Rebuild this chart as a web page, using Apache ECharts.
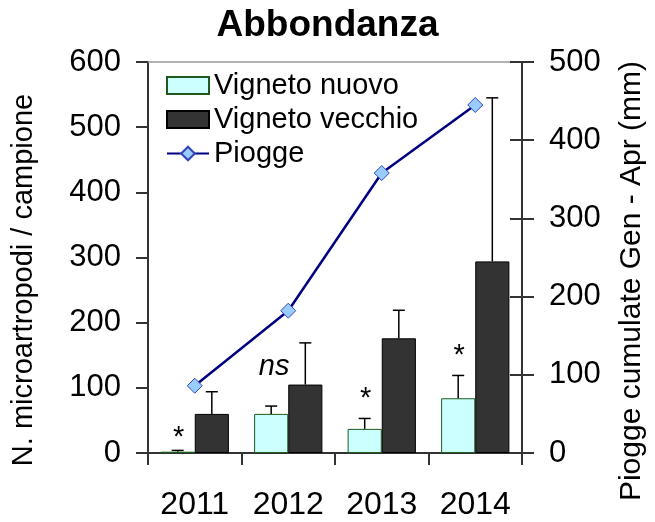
<!DOCTYPE html>
<html><head><meta charset="utf-8">
<script src="https://cdn.jsdelivr.net/npm/echarts@6/dist/echarts.min.js"></script>
<style>html,body{margin:0;padding:0;background:#fff}#c{width:655px;height:522px}</style>
</head><body><div id="c"></div>
<script>
const years = ['2011', '2012', '2013', '2014'];
const nuovo = [2, 60, 37, 84];
const nuovoErr = [4, 72, 53, 119];
const vecchio = [60, 105, 176, 294];
const vecchioErr = [94, 169, 219, 545];
const piogge = [86, 182, 358, 445];
const annotText = ['*', 'ns', '*', '*'];
const annotY = [23, 132, 83, 149];
const leftTicks = [0, 100, 200, 300, 400, 500, 600];
const rightTicks = [0, 100, 200, 300, 400, 500];

const FONT = 'Liberation Sans, Arial, sans-serif';
const GAP = 0.27;
const chart = echarts.init(document.getElementById('c'));

function errRender(side) {
  return function (params, api) {
    const cat = api.value(0);
    const base = api.coord([cat, api.value(1)]);
    const top = api.coord([cat, api.value(2)]);
    const band = api.size([1, 0])[0];
    const bw = band * (1 - GAP) / 2;
    const x = base[0] + side * bw / 2;
    const cap = 6;
    const st = { stroke: '#000', lineWidth: 1.5 };
    return { type: 'group', children: [
      { type: 'line', shape: { x1: x, y1: base[1], x2: x, y2: top[1] }, style: st },
      { type: 'line', shape: { x1: x - cap, y1: top[1], x2: x + cap, y2: top[1] }, style: st }
    ]};
  };
}

chart.setOption({
  animation: false,
  title: { text: 'Abbondanza', left: 'center', top: 2,
    textStyle: { fontFamily: FONT, fontWeight: 'bold', fontSize: 37, color: '#000' } },
  grid: { left: 148, right: 133, top: 62, bottom: 69 },
  legend: {
    orient: 'vertical', left: 161, top: 66, itemWidth: 42, itemHeight: 17, itemGap: 5,
    textStyle: { fontFamily: FONT, fontSize: 29, color: '#000' },
    data: [{ name: 'Vigneto nuovo', icon: 'rect' }, { name: 'Vigneto vecchio', icon: 'rect' }, 'Piogge']
  },
  xAxis: [{
    type: 'category', data: years, position: 'bottom',
    axisLine: { lineStyle: { color: '#333', width: 2 } },
    axisTick: { show: true, length: 12, lineStyle: { color: '#333', width: 2 } },
    axisLabel: { fontFamily: FONT, fontSize: 32, color: '#000', margin: 36 }
  }, {
    type: 'category', data: years, position: 'top',
    axisLine: { show: true, onZero: false, lineStyle: { color: '#999', width: 1.5 } },
    axisTick: { show: false }, axisLabel: { show: false }
  }],
  yAxis: [{
    type: 'value', min: 0, max: 600, interval: 100, position: 'left',
    axisLine: { show: true, lineStyle: { color: '#333', width: 2 } },
    axisTick: { show: true, length: 12, lineStyle: { color: '#333', width: 2 } },
    axisLabel: { fontFamily: FONT, fontSize: 31, color: '#000', margin: 27,
      formatter: v => leftTicks.includes(v) ? String(v) : '' },
    splitLine: { show: false }
  }, {
    type: 'value', min: 0, max: 500, interval: 100, position: 'right',
    axisLine: { show: true, lineStyle: { color: '#333', width: 2 } },
    axisTick: { show: true, length: 12, lineStyle: { color: '#333', width: 2 } },
    axisLabel: { fontFamily: FONT, fontSize: 31, color: '#000', margin: 27,
      formatter: v => rightTicks.includes(v) ? String(v) : '' },
    splitLine: { show: false }
  }, {
    type: 'value', min: 0, max: 500, interval: 100, position: 'right',
    axisLine: { show: false },
    axisTick: { show: true, inside: true, length: 12, lineStyle: { color: '#333', width: 2 } },
    axisLabel: { show: false }, splitLine: { show: false }
  }],
  graphic: [
    { type: 'text', rotation: Math.PI / 2, x: 24, y: 280,
      style: { text: 'N. microartropodi / campione', font: '29px ' + FONT, fill: '#000',
        textAlign: 'center', textVerticalAlign: 'middle' } },
    { type: 'text', rotation: Math.PI / 2, x: 632, y: 281,
      style: { text: 'Piogge cumulate Gen - Apr (mm)', font: '30px ' + FONT, fill: '#000',
        textAlign: 'center', textVerticalAlign: 'middle' } }
  ],
  series: [
    { name: 'Vigneto nuovo', type: 'bar', data: nuovo, barGap: '0%', barCategoryGap: (GAP * 100) + '%',
      itemStyle: { color: '#ccffff', borderColor: '#1e5a1e', borderWidth: 1 } },
    { name: 'Vigneto vecchio', type: 'bar', data: vecchio,
      itemStyle: { color: '#333333', borderColor: '#000', borderWidth: 1 } },
    { type: 'custom', renderItem: errRender(-1), data: years.map((y, i) => [i, nuovo[i], nuovoErr[i]]), z: 3, silent: true },
    { type: 'custom', renderItem: errRender(1), data: years.map((y, i) => [i, vecchio[i], vecchioErr[i]]), z: 3, silent: true },
    { type: 'custom', silent: true, z: 4,
      data: years.map((y, i) => [i, annotY[i], annotText[i]]),
      renderItem: function (params, api) {
        const p = api.coord([api.value(0), api.value(1)]);
        const band = api.size([1, 0])[0];
        const bw = band * (1 - GAP) / 2;
        const t = annotText[params.dataIndex];
        return { type: 'text', x: p[0] - bw / 2 + (t === 'ns' ? 3 : 1), y: p[1],
          style: { text: t, font: (t === 'ns' ? 'italic ' : '') + '29px ' + FONT, fill: '#000',
            textAlign: 'center', textVerticalAlign: 'middle' } };
      } },
    { name: 'Piogge', type: 'line', yAxisIndex: 1, data: piogge, z: 5,
      symbol: 'diamond', symbolSize: 15,
      lineStyle: { color: '#000080', width: 2.5 },
      itemStyle: { color: '#99ccff', borderColor: '#3344bb', borderWidth: 1 } }
  ]
});
</script></body></html>
